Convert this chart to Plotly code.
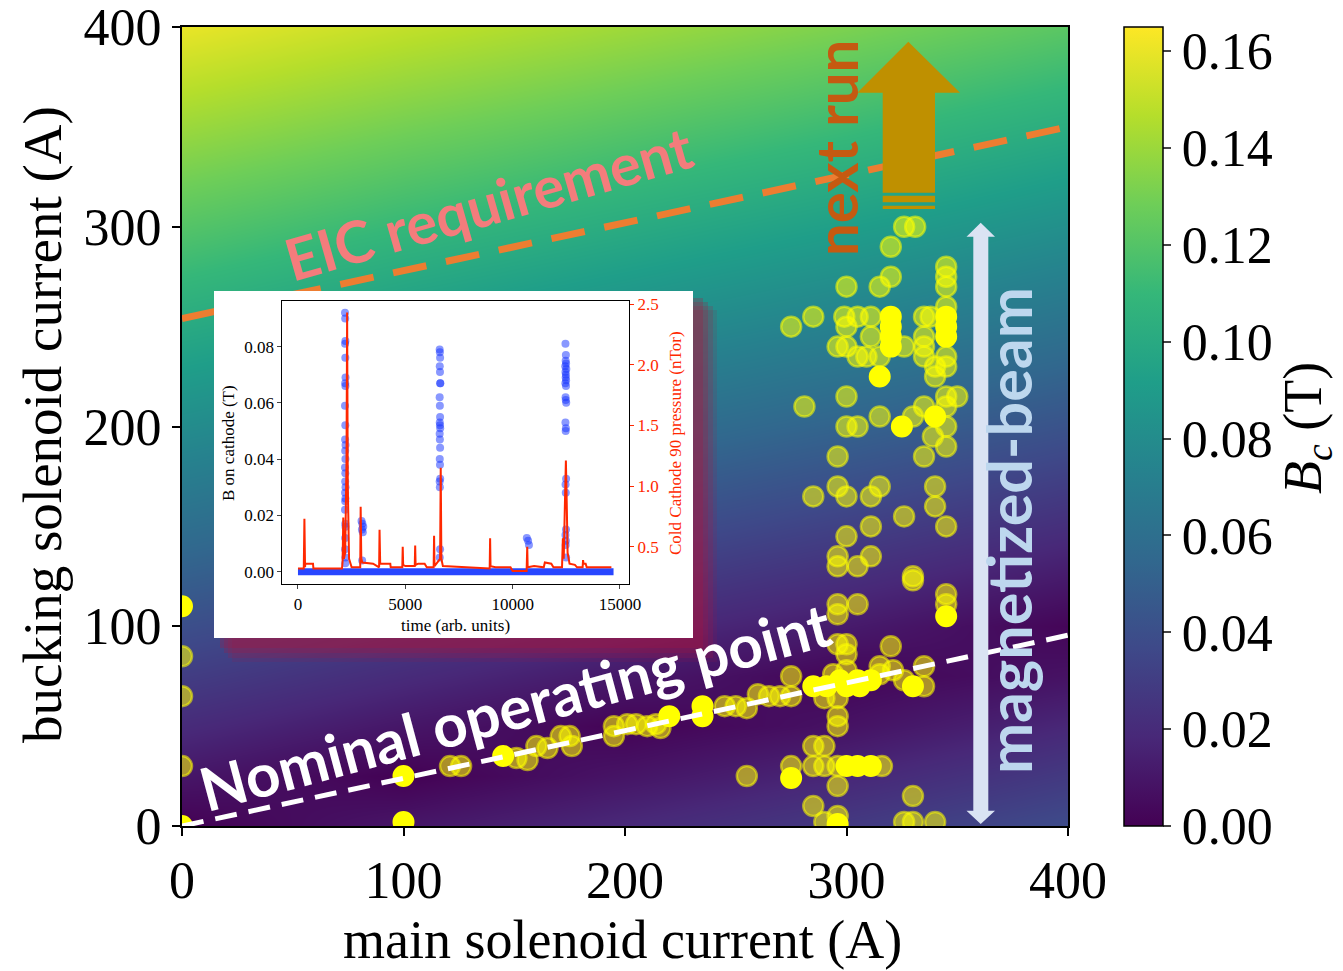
import plotly.graph_objects as go

# ---------------- data ----------------
main_nodes = [0, 100, 200, 300, 400]
bucking_nodes = [0, 25, 50, 75, 100, 125, 150, 175, 200, 225, 250, 275, 300, 325, 350, 375, 400]
bc_grid = [
    [0.000, 0.010, 0.019, 0.028, 0.038],
    [0.010, 0.000, 0.009, 0.018, 0.028],
    [0.020, 0.010, 0.001, 0.008, 0.018],
    [0.030, 0.020, 0.011, 0.002, 0.008],
    [0.040, 0.030, 0.021, 0.012, 0.002],
    [0.050, 0.040, 0.031, 0.022, 0.012],
    [0.060, 0.050, 0.041, 0.032, 0.022],
    [0.070, 0.060, 0.051, 0.042, 0.032],
    [0.080, 0.070, 0.061, 0.052, 0.042],
    [0.090, 0.080, 0.071, 0.062, 0.052],
    [0.100, 0.090, 0.081, 0.072, 0.062],
    [0.110, 0.100, 0.091, 0.082, 0.072],
    [0.120, 0.110, 0.101, 0.092, 0.082],
    [0.130, 0.120, 0.111, 0.102, 0.092],
    [0.140, 0.130, 0.121, 0.112, 0.102],
    [0.150, 0.140, 0.131, 0.122, 0.112],
    [0.160, 0.150, 0.141, 0.132, 0.122],
]

semi_main = [0, 0, 0,
             121, 126, 151, 156, 160, 165, 171, 175, 176, 195, 195, 201, 205, 210, 214, 216,
             245, 250, 255, 260, 265, 270, 275, 275, 294, 300, 315, 315, 321, 320, 326, 335, 335,
             290, 296, 296, 296, 285, 290, 275, 285, 290, 296, 316, 255, 296, 285, 296, 290,
             326, 330, 340, 330, 296, 305, 296, 330, 345, 345, 296, 300, 300,
             300, 305, 339, 345, 296, 335, 296, 285, 300, 311, 315, 340, 340, 326, 345, 311,
             300, 296, 296, 311, 305, 330,
             326, 331, 320, 320, 315, 300, 285, 275, 299, 305, 311, 300, 311, 296, 300, 326,
             305, 309, 315, 345, 345, 345, 345, 345, 345, 335, 338, 335, 335, 335, 340, 340,
             345, 350, 300, 281, 315, 335, 330, 345, 345]
semi_bucking = [85, 65, 30,
                30, 30, 34, 33, 40, 39, 45, 45, 40, 50, 45, 51, 51, 50, 51, 49,
                60, 60, 59, 66, 65, 65, 65, 75, 76, 78, 76, 80, 78, 90, 73, 80, 70,
                64, 64, 55, 50, 40, 40, 30, 30, 30, 30, 30, 25, 20, 10, 5, 2,
                2, 2, 2, 15, 111, 111, 106, 123, 116, 111, 91, 91, 86,
                200, 200, 195, 190, 185, 185, 170, 165, 165, 165, 170, 170, 160, 155, 150, 150,
                145, 135, 130, 135, 130, 125,
                300, 300, 290, 275, 270, 270, 255, 250, 255, 255, 255, 250, 245, 240, 240, 240,
                235, 235, 235, 280, 275, 270, 260, 235, 230, 255, 255, 245, 240, 235, 225, 230,
                215, 215, 215, 210, 205, 210, 205, 210, 200]

solid_main = [0, 0, 100, 100, 145, 220, 235, 235, 285, 291, 297, 300, 305, 306, 311, 275, 330,
              345, 300, 305, 311, 296, 325, 340, 315, 320, 320, 320, 320, 345, 345, 345]
solid_bucking = [110, 0, 25, 2, 35, 55, 60, 55, 70, 70, 73, 70, 73, 70, 73, 24, 70,
                 105, 30, 30, 30, 1, 200, 205, 225, 255, 250, 245, 240, 255, 250, 245]

nominal_main = [0, 400]
nominal_bucking = [0, 95.5]
eic_main = [0, 400]
eic_bucking = [254, 350]

cbar_ticks = [0.00, 0.02, 0.04, 0.06, 0.08, 0.10, 0.12, 0.14, 0.16]
axis_ticks = [0, 100, 200, 300, 400]

# inset data
inset_time_ticks = [0, 5000, 10000, 15000]
inset_time_labels = ["0", "5000", "10000", "15000"]
base_time = [0, 14700]
base_b = [0, 0]
b_time = [2190, 2200, 2210, 2195, 2205, 2215, 2200, 2210, 2190, 2205, 2195, 2215, 2200, 2210,
          2190, 2205, 2200, 2215, 2195, 2210, 2200, 2190, 2205, 2215, 2200, 2195, 2210, 2205,
          2960, 3000, 3040, 2980, 3020, 2990,
          6600, 6610, 6620, 6605, 6615, 6625, 6630, 6600, 6610, 6620, 6605, 6615, 6625, 6600,
          6610, 6620, 6605, 6615, 6625, 6600, 6610, 6620, 6605,
          10660, 10720, 10760,
          12460, 12480, 12470, 12490, 12450, 12500, 12460, 12480, 12470, 12490, 12455, 12485,
          12465, 12475, 12495, 12460, 12480, 12470, 12490, 12465, 12475, 12485, 12460, 12480,
          12470, 12490]
b_val = [0.092, 0.090, 0.082, 0.081, 0.076, 0.069, 0.067, 0.066, 0.059, 0.052, 0.047, 0.045,
         0.043, 0.040, 0.037, 0.035, 0.032, 0.030, 0.028, 0.026, 0.025, 0.022, 0.017, 0.016,
         0.012, 0.008, 0.005, 0.003,
         0.018, 0.017, 0.016, 0.015, 0.014, 0.004,
         0.079, 0.078, 0.076, 0.073, 0.071, 0.067, 0.067, 0.062, 0.059, 0.055, 0.053, 0.052,
         0.051, 0.049, 0.047, 0.044, 0.040, 0.038, 0.033, 0.032, 0.030, 0.008, 0.005,
         0.012, 0.011, 0.0095,
         0.081, 0.077, 0.075, 0.074, 0.073, 0.072, 0.071, 0.070, 0.069, 0.068, 0.067, 0.066,
         0.062, 0.061, 0.060, 0.053, 0.051, 0.050, 0.033, 0.031, 0.028, 0.015, 0.013, 0.011,
         0.0095, 0.005]
p_time = [0, 270, 300, 330, 340, 700, 720, 2050, 2080, 2110, 2140, 2200, 2260, 2290, 2320,
          2380, 2450, 2500, 2900, 2920, 2950, 3000, 3500, 3780, 3800, 3830, 4300, 4320, 4860,
          4880, 4900, 5000, 5440, 5460, 5480, 5600, 5900, 6000, 6320, 6340, 6360, 6620, 6650,
          6680, 6750, 8930, 8950, 8970, 9200, 9900, 10000, 10650, 10680, 10700, 11000, 11450,
          11500, 11800, 11900, 12300, 12340, 12380, 12440, 12480, 12520, 12560, 12650, 12900,
          13000, 13260, 13280, 13300, 13400, 13450, 14600]
p_val = [0.32, 0.32, 0.73, 0.33, 0.36, 0.36, 0.32, 0.32, 0.38, 0.74, 0.40, 0.45, 1.20, 2.43,
         1.00, 0.40, 0.36, 0.33, 0.33, 0.83, 0.40, 0.37, 0.36, 0.33, 0.64, 0.36, 0.36, 0.33,
         0.33, 0.50, 0.35, 0.34, 0.34, 0.51, 0.35, 0.36, 0.36, 0.33, 0.33, 0.59, 0.34, 0.40,
         1.15, 0.40, 0.34, 0.32, 0.57, 0.34, 0.33, 0.33, 0.30, 0.30, 0.50, 0.33, 0.34, 0.33,
         0.37, 0.36, 0.33, 0.33, 0.57, 0.40, 0.90, 1.21, 0.86, 0.45, 0.36, 0.35, 0.33, 0.33,
         0.39, 0.36, 0.36, 0.33, 0.33]

# ---------------- layout helpers ----------------
W, H = 1343, 971
L, R, T, B = 182, 275, 27, 145
PW, PH = W - L - R, H - T - B


def PX(px):
    return (px - L) / PW


def PY(py):
    return (H - B - py) / PH


def DX(px):
    return (px - L) / PW * 400


def DY(py):
    return (H - B - py) / PH * 400


SERIF = "Liberation Serif"
SANS = "Lato"

fig = go.Figure()

fig.add_trace(go.Heatmap(
    x=main_nodes, y=bucking_nodes, z=bc_grid, zsmooth="best",
    colorscale="Viridis", zmin=0, zmax=0.165, hoverinfo="skip",
    colorbar=dict(x=PX(1124 - 10), xanchor="left", thickness=39, len=1, y=0.5,
                  yanchor="middle", ypad=0, outlinewidth=1.5, outlinecolor="black",
                  ticks="outside", ticklen=8, tickwidth=1.5, tickvals=cbar_ticks,
                  tickformat=".2f",
                  tickfont=dict(family=SERIF, size=52, color="black")),
))

fig.add_trace(go.Scatter(
    x=semi_main, y=semi_bucking, mode="markers", hoverinfo="skip",
    marker=dict(size=20, color="rgba(255,255,0,0.55)",
                line=dict(color="rgba(255,255,0,0.55)", width=2.5)),
))
fig.add_trace(go.Scatter(
    x=solid_main, y=solid_bucking, mode="markers", hoverinfo="skip",
    marker=dict(size=20, color="#ffff00", line=dict(color="#ffff00", width=2)),
))
fig.add_trace(go.Scatter(
    x=nominal_main, y=nominal_bucking, mode="lines", hoverinfo="skip",
    line=dict(color="white", width=5, dash="22px,12px"),
))
fig.add_trace(go.Scatter(
    x=eic_main, y=eic_bucking, mode="lines", hoverinfo="skip",
    line=dict(color="#ed7d31", width=7, dash="34px,20px"),
))

# inset shadow and white box (decoration in main axes)
for (x0, y0, x1, y1, a) in [(220, 298, 703, 648, 0.25), (224, 302, 708, 653, 0.22),
                            (228, 306, 713, 658, 0.18), (232, 310, 717, 662, 0.12)]:
    fig.add_trace(go.Scatter(
        x=[DX(x0), DX(x1), DX(x1), DX(x0), DX(x0)],
        y=[DY(y0), DY(y0), DY(y1), DY(y1), DY(y0)],
        mode="lines", fill="toself", fillcolor=f"rgba(175,20,60,{a})",
        line=dict(width=0), hoverinfo="skip"))
fig.add_trace(go.Scatter(
    x=[DX(214), DX(693), DX(693), DX(214), DX(214)],
    y=[DY(291), DY(291), DY(638), DY(638), DY(291)],
    mode="lines", fill="toself", fillcolor="white", line=dict(width=0), hoverinfo="skip"))

# inset traces
fig.add_trace(go.Scatter(
    x=base_time, y=base_b, mode="lines", xaxis="x2", yaxis="y2", hoverinfo="skip",
    line=dict(color="rgb(40,70,255)", width=7)))
fig.add_trace(go.Scatter(
    x=b_time, y=b_val, mode="markers", xaxis="x2", yaxis="y2", hoverinfo="skip",
    marker=dict(size=8, color="rgba(20,50,255,0.5)", line=dict(width=0))))
fig.add_trace(go.Scatter(
    x=p_time, y=p_val, mode="lines", xaxis="x2", yaxis="y3", hoverinfo="skip",
    line=dict(color="rgb(255,40,0)", width=2)))

axis_common = dict(showgrid=False, zeroline=False, showline=True, mirror=True,
                   linecolor="black", linewidth=2, ticks="outside", ticklen=8,
                   tickwidth=1.5, tickcolor="black", ticklabeloverflow="allow",
                   tickfont=dict(family=SERIF, size=52, color="black"))

inset_font = dict(family=SERIF, size=17, color="black")

fig.update_layout(
    width=W, height=H, margin=dict(l=L, r=R, t=T, b=B, autoexpand=False),
    paper_bgcolor="white", plot_bgcolor="white", showlegend=False, hovermode=False,
    xaxis=dict(range=[0, 400], tickvals=axis_ticks, **axis_common),
    yaxis=dict(range=[0, 400], tickvals=axis_ticks, **axis_common),
    xaxis2=dict(domain=[PX(282.3), PX(629)], anchor="y2", range=[-730, 15420],
                tickvals=inset_time_ticks, ticktext=inset_time_labels, showgrid=False,
                zeroline=False, showline=True, mirror=True, linecolor="black", linewidth=1,
                ticks="outside", ticklen=4, tickfont=inset_font),
    yaxis2=dict(domain=[PY(584.3), PY(301)], anchor="x2", range=[-0.0045, 0.0962],
                tickvals=[0, 0.02, 0.04, 0.06, 0.08], tickformat=".2f", showgrid=False,
                zeroline=False, showline=True, linecolor="black", linewidth=1,
                ticks="outside", ticklen=4, tickfont=inset_font),
    yaxis3=dict(overlaying="y2", anchor="x2", side="right", range=[0.19, 2.525],
                tickvals=[0.5, 1.0, 1.5, 2.0, 2.5], tickformat=".1f", showgrid=False,
                zeroline=False, showline=True, linecolor="black", linewidth=1,
                ticks="outside", ticklen=4, tickcolor="rgb(255,40,0)",
                tickfont=dict(family=SERIF, size=17, color="rgb(255,40,0)")),
)


def P(px, py):
    return f"{PX(px):.5f},{PY(py):.5f}"


gold_arrow = ("M " + P(882.7, 192.7) + " L " + P(882.7, 92.7) + " L " + P(857.3, 92.7) +
              " L " + P(908.3, 41.7) + " L " + P(960, 92.7) + " L " + P(935, 92.7) +
              " L " + P(935, 192.7) + " Z")
double_arrow = ("M " + P(980.7, 222.7) + " L " + P(995, 236.7) + " L " + P(988.3, 236.7) +
                " L " + P(988.3, 810.7) + " L " + P(995, 810.7) + " L " + P(980.7, 824) +
                " L " + P(966.5, 810.7) + " L " + P(973.3, 810.7) + " L " + P(973.3, 236.7) +
                " L " + P(966.5, 236.7) + " Z")
shapes = [
    dict(type="path", xref="paper", yref="paper", path=gold_arrow, fillcolor="#bf9000",
         line=dict(width=0), layer="above"),
    dict(type="rect", xref="paper", yref="paper", x0=PX(882.7), x1=PX(935), y0=PY(202.3),
         y1=PY(195.7), fillcolor="#bf9000", line=dict(width=0), layer="above"),
    dict(type="rect", xref="paper", yref="paper", x0=PX(882.7), x1=PX(935), y0=PY(209),
         y1=PY(205.7), fillcolor="#bf9000", line=dict(width=0), layer="above"),
    dict(type="path", xref="paper", yref="paper", path=double_arrow, fillcolor="#dae3f3",
         line=dict(width=0), layer="above"),
]
fig.update_layout(shapes=shapes)

ann = [
    dict(text="<b>EIC requirement</b>", x=PX(488), y=PY(202), textangle=-16,
         font=dict(family=SANS, size=58, color="#f47c7c")),
    dict(text="<b>Nominal operating point</b>", x=PX(515), y=PY(706), textangle=-15,
         font=dict(family=SANS, size=60, color="white")),
    dict(text="<b>next run</b>", x=PX(835), y=PY(148), textangle=-90,
         font=dict(family=SANS, size=58, color="#c55a11")),
    dict(text="<b>magnetized-beam</b>", x=PX(1008), y=PY(531), textangle=-90,
         font=dict(family=SANS, size=61, color="#bdd7ee")),
    dict(text="main solenoid current (A)", x=PX(622), y=PY(940),
         font=dict(family=SERIF, size=54, color="black")),
    dict(text="bucking solenoid current (A)", x=PX(42), y=PY(425), textangle=-90,
         font=dict(family=SERIF, size=55, color="black")),
    dict(text="<i>B</i><sub><i>c</i></sub> (T)", x=PX(1307), y=PY(428), textangle=-90,
         font=dict(family=SERIF, size=54, color="black")),
    dict(text="B on cathode (T)", x=PX(228), y=PY(443), textangle=-90, font=inset_font),
    dict(text="Cold Cathode 90 pressure (nTor)", x=PX(675), y=PY(443), textangle=-90,
         font=dict(family=SERIF, size=17, color="rgb(255,40,0)")),
    dict(text="time (arb. units)", x=PX(455), y=PY(625), font=inset_font),
]
for a in ann:
    a.update(xref="paper", yref="paper", showarrow=False, xanchor="center", yanchor="middle")
fig.update_layout(annotations=ann)

fig.write_html("out.html")
